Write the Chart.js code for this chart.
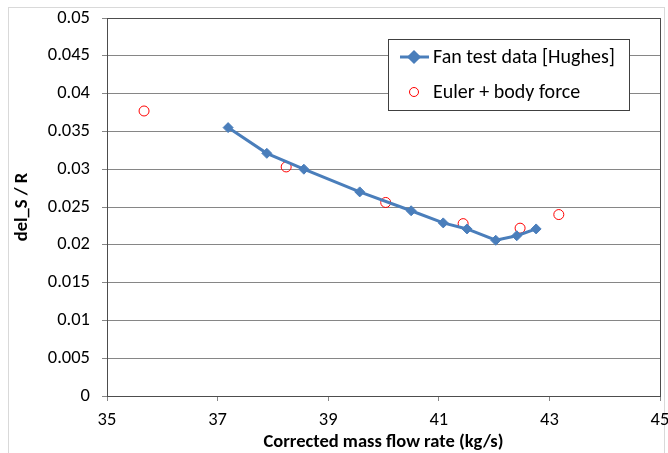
<!DOCTYPE html>
<html>
<head>
<meta charset="utf-8">
<script src="https://cdn.jsdelivr.net/npm/chart.js@4.4.1/dist/chart.umd.min.js"></script>
<style>
html, body { margin: 0; padding: 0; background: #fff; }
#wrap { position: relative; width: 668px; height: 453px; }
</style>
</head>
<body>
<div id="wrap"><canvas id="chart" width="668" height="453"></canvas></div>
<script>
// measured fan data (Hughes)
const fanFlow = [37.19, 37.89, 38.56, 39.57, 40.50, 41.08, 41.51, 42.03, 42.41, 42.76];
const fanLoss = [0.0355, 0.0321, 0.0300, 0.0270, 0.0245, 0.0229, 0.0221, 0.0206, 0.0212, 0.0221];

// Euler + body force model
const eulerFlow = [35.67, 38.24, 40.04, 41.44, 42.47, 43.17];
const eulerLoss = [0.0377, 0.0303, 0.0256, 0.0228, 0.0222, 0.0240];

const seriesNames = ['Fan test data [Hughes]', 'Euler + body force'];
const xTitle = 'Corrected mass flow rate (kg/s)';
const yTitle = 'del_S / R';

const FONT = "Carlito, Lato, sans-serif";
const blue = '#4a7ebb';
const red = '#ff0000';

function toPoints(xs, ys) {
    return xs.map((x, i) => ({ x: x, y: ys[i] }));
}

const framePlugin = {
    id: 'frame',
    beforeDraw(chart) {
        const ctx = chart.ctx;
        ctx.save();
        ctx.strokeStyle = '#d9d9d9';
        ctx.lineWidth = 1;
        ctx.strokeRect(8.5, 7.5, 656, 460);
        ctx.restore();
    },
    beforeDatasetsDraw(chart) {
        const a = chart.chartArea;
        const ctx = chart.ctx;
        ctx.save();
        ctx.strokeStyle = '#4d4d4d';
        ctx.lineWidth = 1;
        ctx.strokeRect(Math.round(a.left) + 0.5, Math.round(a.top) + 0.5,
            Math.round(a.right - a.left), Math.round(a.bottom - a.top));
        ctx.restore();
    }
};

const legendPlugin = {
    id: 'boxLegend',
    afterDraw(chart) {
        const ctx = chart.ctx;
        ctx.save();
        ctx.fillStyle = '#fff';
        ctx.fillRect(388, 39, 241, 71);
        ctx.strokeStyle = '#404040';
        ctx.lineWidth = 1;
        ctx.strokeRect(388.5, 39.5, 241, 71);

        // row 1: line + diamond
        ctx.strokeStyle = blue;
        ctx.lineWidth = 3;
        ctx.beginPath();
        ctx.moveTo(400, 57);
        ctx.lineTo(429, 57);
        ctx.stroke();
        ctx.fillStyle = blue;
        Chart.helpers.drawPoint(ctx, { pointStyle: 'rectRot', radius: 5, borderWidth: 1 }, 414, 57);
        ctx.fill();

        // row 2: open circle
        ctx.strokeStyle = red;
        ctx.lineWidth = 1;
        ctx.beginPath();
        ctx.arc(414, 92, 4.5, 0, Math.PI * 2);
        ctx.stroke();

        ctx.fillStyle = '#000';
        ctx.font = '20px ' + FONT;
        ctx.textBaseline = 'middle';
        ctx.fillText(seriesNames[0], 433, 58);
        ctx.fillText(seriesNames[1], 433, 93);
        ctx.restore();
    }
};

new Chart(document.getElementById('chart'), {
    type: 'scatter',
    data: {
        datasets: [{
            label: seriesNames[0],
            data: toPoints(fanFlow, fanLoss),
            showLine: true,
            borderColor: blue,
            backgroundColor: blue,
            borderWidth: 3,
            pointStyle: 'rectRot',
            pointRadius: 5,
            pointBorderWidth: 1,
            tension: 0
        }, {
            label: seriesNames[1],
            data: toPoints(eulerFlow, eulerLoss),
            showLine: false,
            borderColor: red,
            backgroundColor: 'rgba(255,255,255,0)',
            pointStyle: 'circle',
            pointRadius: 5,
            pointBorderWidth: 1
        }]
    },
    options: {
        responsive: false,
        animation: false,
        layout: { padding: { top: 18, right: 8, left: 0, bottom: 0 } },
        plugins: {
            legend: { display: false },
            tooltip: { enabled: false }
        },
        scales: {
            x: {
                type: 'linear',
                min: 35,
                max: 45,
                ticks: {
                    stepSize: 2,
                    color: '#000',
                    font: { family: FONT, size: 18.5 },
                    padding: 8
                },
                grid: { display: true, drawOnChartArea: false, drawTicks: true, tickLength: 5, color: '#868686' },
                border: { color: '#868686' },
                title: {
                    display: true,
                    text: xTitle,
                    color: '#000',
                    font: { family: FONT, size: 18.5, weight: 'bold' },
                    padding: { top: 2, bottom: 0 }
                },
                afterFit(scale) {
                    scale.height = 57;
                    scale.paddingRight = 0;
                }
            },
            y: {
                min: 0,
                max: 0.05,
                ticks: {
                    stepSize: 0.005,
                    color: '#000',
                    font: { family: FONT, size: 18.5 },
                    padding: 12,
                    callback: v => String(Number(v.toFixed(3)))
                },
                grid: { color: '#868686', tickLength: 5 },
                border: { color: '#868686' },
                title: {
                    display: true,
                    text: yTitle,
                    color: '#000',
                    font: { family: FONT, size: 18.5, weight: 'bold' },
                    padding: { top: 11, bottom: 0 }
                },
                afterFit(scale) {
                    scale.width = 107;
                    scale.paddingTop = 0;
                }
            }
        }
    },
    plugins: [framePlugin, legendPlugin]
});
</script>
</body>
</html>
